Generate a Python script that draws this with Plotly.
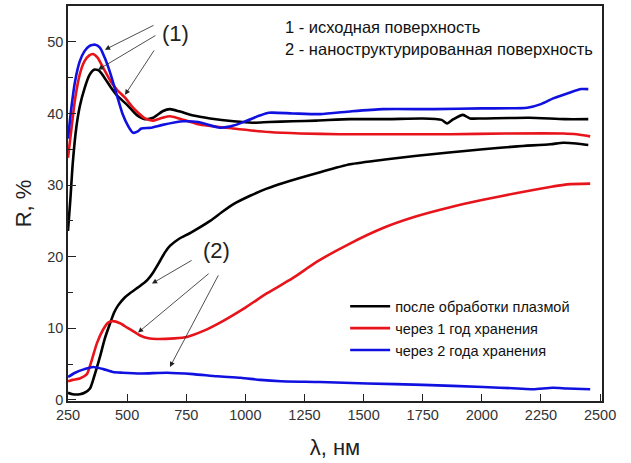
import plotly.graph_objects as go

# ---------- data ----------
# (1) initial surface
wl_black1 = [250, 260, 270, 285, 300, 320, 340, 360, 380, 400, 430, 460, 500, 540, 576, 610, 650, 681, 720, 780,
             851, 950, 1030, 1100, 1200, 1300, 1443, 1600, 1750, 1830, 1853, 1880, 1920, 1950, 2000, 2200, 2350, 2450]
r_black1 = [23.6, 28.0, 33.0, 38.0, 41.0, 43.5, 45.3, 46.1, 46.0, 45.2, 43.7, 42.4, 41.2, 39.8, 39.2, 39.4, 40.3, 40.6, 40.3, 39.7,
            39.3, 38.9, 38.7, 38.8, 38.9, 39.0, 39.2, 39.2, 39.3, 39.1, 38.6, 39.2, 39.8, 39.3, 39.3, 39.4, 39.2, 39.2]

wl_red1 = [250, 265, 280, 300, 320, 340, 356, 375, 400, 430, 460, 491, 520, 550, 576, 610, 650, 681, 720, 800,
           948, 1100, 1231, 1400, 1600, 1866, 2100, 2344, 2400, 2458]
r_red1 = [33.8, 38.0, 42.0, 45.5, 47.3, 48.1, 48.3, 47.8, 46.3, 44.5, 43.2, 42.2, 41.0, 40.0, 39.3, 39.0, 39.4, 39.6, 39.3, 38.5,
          37.9, 37.4, 37.2, 37.1, 37.1, 37.1, 37.2, 37.2, 37.1, 36.8]

wl_blue1 = [250, 265, 280, 300, 320, 340, 365, 385, 405, 430, 457, 480, 505, 525, 545, 560, 600, 650, 737, 800,
            893, 950, 1000, 1060, 1100, 1200, 1316, 1450, 1582, 1800, 2000, 2192, 2250, 2302, 2370, 2420, 2450]
r_blue1 = [36.5, 41.0, 44.5, 47.3, 48.7, 49.4, 49.6, 49.2, 47.8, 45.5, 42.5, 40.0, 38.2, 37.3, 37.5, 37.9, 38.0, 38.4, 38.9, 38.8,
           38.0, 38.3, 38.9, 39.7, 40.1, 40.0, 39.9, 40.3, 40.6, 40.6, 40.7, 40.8, 41.3, 42.1, 42.9, 43.4, 43.4]

# (2) nanostructured surface
wl_black2 = [250, 270, 300, 320, 343, 360, 385, 405, 428, 445, 462, 490, 512, 550, 584, 610, 639, 660, 681, 720,
             766, 851, 900, 948, 1020, 1090, 1160, 1316, 1443, 1600, 1726, 1850, 2005, 2150, 2289, 2344, 2400, 2450]
r_black2 = [1.0, 0.8, 0.8, 1.0, 1.6, 3.2, 6.0, 8.5, 10.7, 12.2, 13.2, 14.3, 14.9, 15.8, 16.7, 17.8, 19.4, 20.6, 21.5, 22.5,
            23.3, 25.0, 26.2, 27.3, 28.5, 29.5, 30.3, 31.8, 32.9, 33.6, 34.1, 34.5, 35.0, 35.4, 35.7, 35.9, 35.8, 35.6]

wl_red2 = [250, 270, 300, 330, 350, 372, 398, 420, 440, 470, 500, 530, 555, 590, 626, 700, 753, 820, 893,
           1000, 1092, 1200, 1303, 1440, 1582, 1720, 1866, 2000, 2149, 2300, 2361, 2458]
r_red2 = [2.6, 2.8, 3.0, 3.6, 5.5, 7.9, 9.8, 10.8, 11.0, 10.7, 10.1, 9.5, 9.0, 8.6, 8.5, 8.6, 8.8, 9.6, 10.8,
          12.9, 14.9, 17.0, 19.3, 21.8, 24.0, 25.6, 26.9, 27.9, 28.9, 29.8, 30.1, 30.2]

wl_blue2 = [250, 280, 320, 356, 400, 440, 480, 560, 669, 780, 880, 980, 1062, 1150, 1316, 1515, 1750, 2005,
            2150, 2217, 2300, 2361, 2458]
r_blue2 = [3.2, 3.8, 4.3, 4.6, 4.3, 3.9, 3.8, 3.7, 3.8, 3.6, 3.3, 3.1, 2.8, 2.6, 2.5, 2.3, 2.1, 1.8,
           1.6, 1.5, 1.7, 1.6, 1.5]

legend_names = ["после обработки плазмой", "через 1 год хранения", "через 2 года хранения"]
x_ticks = [250, 500, 750, 1000, 1250, 1500, 1750, 2000, 2250, 2500]
y_ticks = [0, 10, 20, 30, 40, 50]

colors = ["#000000", "#e8141b", "#1010e0"]
FONT = "Arial, Liberation Sans, sans-serif"

fig = go.Figure()
series2 = [(wl_black2, r_black2), (wl_red2, r_red2), (wl_blue2, r_blue2)]
series1 = [(wl_black1, r_black1), (wl_red1, r_red1), (wl_blue1, r_blue1)]
for i, (xs, ys) in enumerate(series2):
    fig.add_trace(go.Scatter(x=xs, y=ys, mode="lines", name=legend_names[i], legendgroup=str(i),
                             line=dict(color=colors[i], width=2.6, shape="spline", smoothing=0.6)))
for i, (xs, ys) in enumerate(series1):
    fig.add_trace(go.Scatter(x=xs, y=ys, mode="lines", name=legend_names[i], legendgroup=str(i),
                             showlegend=False,
                             line=dict(color=colors[i], width=2.6, shape="spline", smoothing=0.6)))

# arrows
arrows1 = [((618, 52.4), (406, 48.9)), ((626, 51.0), (377, 46.1)), ((618, 49.0), (491, 42.6))]
arrows2 = [((779, 19.6), (605, 16.25)), ((851, 17.8), (546, 9.4)), ((889, 17.6), (681, 4.6))]
for (tail, head) in arrows1 + arrows2:
    fig.add_annotation(x=head[0], y=head[1], ax=tail[0], ay=tail[1], xref="x", yref="y",
                       axref="x", ayref="y", showarrow=True, arrowhead=2, arrowsize=1.3,
                       arrowwidth=0.8, arrowcolor="#222", text="")

fig.add_annotation(x=703, y=51.2, text="(1)", showarrow=False, xref="x", yref="y",
                   font=dict(family=FONT, size=22, color="#222"))
fig.add_annotation(x=880, y=20.8, text="(2)", showarrow=False, xref="x", yref="y",
                   font=dict(family=FONT, size=22, color="#222"))
fig.add_annotation(x=1159, y=52.1, text="1 - исходная поверхность", showarrow=False, xref="x", yref="y",
                   xanchor="left", font=dict(family=FONT, size=16.5, color="#111"))
fig.add_annotation(x=1159, y=49.0, text="2 - наноструктурированная поверхность", showarrow=False,
                   xref="x", yref="y", xanchor="left", font=dict(family=FONT, size=16.5, color="#111"))

fig.update_layout(
    width=631, height=463,
    margin=dict(l=68, r=29, t=4, b=62),
    paper_bgcolor="white", plot_bgcolor="white",
    font=dict(family=FONT, color="#222"),
    showlegend=True,
    legend=dict(x=0.519, y=0.28, xanchor="left", yanchor="top", bgcolor="rgba(0,0,0,0)",
                itemwidth=40,
                font=dict(family=FONT, size=14.5, color="#111"), tracegroupgap=0),
    xaxis=dict(range=[250, 2508], tickvals=x_ticks, ticktext=[str(v) for v in x_ticks],
               ticks="inside", ticklen=7, tickwidth=1.2, tickcolor="#222",
               showline=True, linewidth=1.5, linecolor="#222", mirror=True,
               showgrid=False, zeroline=False,
               tickfont=dict(family=FONT, size=14.5, color="#333"),
               title=dict(text="λ, нм", font=dict(family=FONT, size=22, color="#222"), standoff=17)),
    yaxis=dict(range=[-0.15, 55], tickvals=y_ticks, ticktext=[str(v) for v in y_ticks],
               ticks="inside", ticklen=8, tickwidth=1.2, tickcolor="#222",
               minor=dict(tickvals=[5, 15, 25, 35, 45], ticks="inside", ticklen=5, tickwidth=1.2, tickcolor="#222"),
               showline=True, linewidth=1.5, linecolor="#222", mirror=True,
               showgrid=False, zeroline=False,
               tickfont=dict(family=FONT, size=14.5, color="#333"),
               title=dict(text="R, %", font=dict(family=FONT, size=22, color="#222"), standoff=10)),
)

fig.write_html("out.html", post_script="document.body.style.margin='0';",
               config={"displayModeBar": False})
